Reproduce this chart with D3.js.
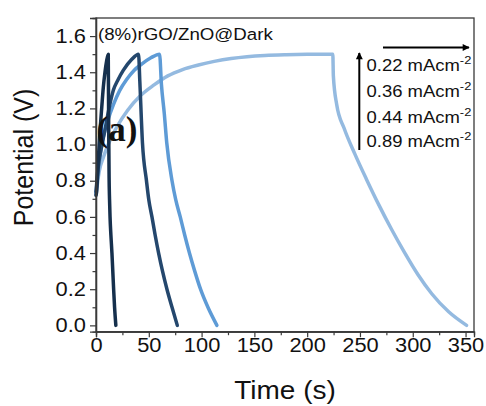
<!DOCTYPE html>
<html><head><meta charset="utf-8">
<script src="https://cdn.jsdelivr.net/npm/d3@7"></script>
<style>
html,body{margin:0;padding:0;background:#fff;}
svg{display:block;font-family:"Liberation Sans",Arial,sans-serif;}
</style></head>
<body><svg id="chart" width="486" height="406"></svg>
<script>
// ---- data ----
const seriesLabels = ["0.22", "0.36", "0.44", "0.89"];
const seriesColors = ["#94bae0", "#5e9bd6", "#24476d", "#16304d"];

// 0.22 mA cm-2
const t022 = [0, 3, 7, 13, 20, 30, 42, 55, 68, 82, 97, 112, 128, 143, 160, 180, 200, 224.3, 224.8, 228, 235, 245, 256, 268, 280, 292, 305, 318, 334, 351];
const v022 = [0.72, 0.85, 0.93, 1.02, 1.10, 1.19, 1.27, 1.33, 1.38, 1.415, 1.44, 1.46, 1.476, 1.486, 1.493, 1.497, 1.499, 1.50, 1.38, 1.22, 1.09, 0.95, 0.81, 0.665, 0.53, 0.405, 0.28, 0.175, 0.075, 0.0];

// 0.36 mA cm-2
const t036 = [0, 3, 6.9, 11, 16.4, 22.5, 29, 36, 43.2, 52, 60.2, 62, 64.7, 67, 72, 75.5, 79.8, 84, 88.5, 93.5, 99, 106, 114.5];
const v036 = [0.73, 0.90, 1.04, 1.13, 1.22, 1.30, 1.36, 1.41, 1.445, 1.48, 1.50, 1.33, 1.17, 1.01, 0.80, 0.695, 0.60, 0.50, 0.40, 0.30, 0.20, 0.10, 0.0];

// 0.44 mA cm-2
const t044 = [0, 2, 5, 8.5, 12, 16.4, 21, 25.8, 33.7, 40.3, 41.5, 44, 47.8, 50, 53, 56, 59.3, 63, 67.2, 72, 77];
const v044 = [0.74, 0.87, 0.98, 1.08, 1.19, 1.30, 1.36, 1.41, 1.47, 1.50, 1.35, 1.01, 0.80, 0.695, 0.60, 0.50, 0.40, 0.30, 0.20, 0.10, 0.0];

// 0.89 mA cm-2
const t089 = [0, 0.6, 2, 3.8, 5.5, 6.9, 8.5, 10, 11.6, 12.0, 12.4, 12.8, 13.3, 14.1, 15.1, 15.9, 16.7, 17.6, 18.8];
const v089 = [0.72, 0.74, 0.90, 1.075, 1.21, 1.315, 1.40, 1.46, 1.50, 1.10, 0.82, 0.70, 0.60, 0.50, 0.40, 0.30, 0.20, 0.10, 0.0];

const xTicks = [0, 50, 100, 150, 200, 250, 300, 350];
const yTicks = [0.0, 0.2, 0.4, 0.6, 0.8, 1.0, 1.2, 1.4, 1.6];
const xMinor = [25, 75, 125, 175, 225, 275, 325];
const yMinor = [0.1, 0.3, 0.5, 0.7, 0.9, 1.1, 1.3, 1.5];

const titleText = "(8%)rGO/ZnO@Dark";
const panelText = "(a)";
const xTitle = "Time (s)";
const yTitle = "Potential (V)";

// ---- layout ----
const SX = 1.12; // horizontal stretch of the reference
const L = 96, R = 474, T = 18, B = 331.7;
const svg = d3.select("#chart");
const x = d3.scaleLinear().domain([0, 358]).range([L, R]);
const y = d3.scaleLinear().domain([-0.035, 1.70]).range([B, T]);

// series
const data = [
  {t: t022, v: v022},
  {t: t036, v: v036},
  {t: t044, v: v044},
  {t: t089, v: v089}
];
const line = d3.line().x(d => x(d[0])).y(d => y(d[1])).curve(d3.curveMonotoneX);
data.forEach((s, i) => {
  const pts = s.t.map((t, k) => [t, s.v[k]]);
  svg.append("path").datum(pts)
    .attr("d", line)
    .attr("fill", "none")
    .attr("stroke", seriesColors[i])
    .attr("stroke-width", 3.5)
    .attr("stroke-linejoin", "round")
    .attr("stroke-linecap", "round");
});

// frame
svg.append("rect").attr("x", L).attr("y", T).attr("width", R - L).attr("height", B - T)
  .attr("fill", "none").attr("stroke", "#3a3a3a").attr("stroke-width", 1.3);

// axes
const fmtY = d3.format(".1f");
const gx = svg.append("g").attr("transform", `translate(0,${B})`)
  .call(d3.axisBottom(x).tickValues(xTicks).tickSize(5.5).tickPadding(0.5).tickFormat(d3.format("d")));
const gxm = svg.append("g").attr("transform", `translate(0,${B})`)
  .call(d3.axisBottom(x).tickValues(xMinor).tickSize(3.5).tickFormat(""));
const gy = svg.append("g").attr("transform", `translate(${L},0)`)
  .call(d3.axisLeft(y).tickValues(yTicks).tickSize(6).tickPadding(3).tickFormat(fmtY));
const gym = svg.append("g").attr("transform", `translate(${L},0)`)
  .call(d3.axisLeft(y).tickValues(yMinor).tickSize(3.5).tickFormat(""));
[gx, gxm, gy, gym].forEach(g => {
  g.select(".domain").attr("stroke", "#3a3a3a").attr("stroke-width", 1.3);
  g.selectAll(".tick line").attr("stroke", "#3a3a3a").attr("stroke-width", 1.2);
  g.selectAll("text").attr("font-size", 19.5).attr("fill", "#111")
    .attr("font-family", "Liberation Sans, Arial, sans-serif")
    .attr("transform", `scale(${SX},1)`);
});

// axis titles
svg.append("text").text(xTitle)
  .attr("transform", `translate(${(L + R) / 2},399) scale(${SX},1)`)
  .attr("text-anchor", "middle").attr("font-size", 25).attr("fill", "#111");
svg.append("text").text(yTitle)
  .attr("transform", `translate(33,157.5) scale(${SX},1) rotate(-90)`)
  .attr("text-anchor", "middle").attr("font-size", 25).attr("fill", "#111");

// title and panel label
svg.append("text").text(titleText)
  .attr("transform", `translate(98,39.5) scale(${SX},1)`)
  .attr("font-size", 16.7).attr("fill", "#111");
svg.append("text").text(panelText)
  .attr("transform", `translate(96.5,141)`)
  .attr("font-family", "Liberation Serif, 'Times New Roman', serif")
  .attr("font-weight", "bold").attr("font-size", 35).attr("fill", "#111");

// legend
const defs = svg.append("defs");
defs.append("marker").attr("id", "ah").attr("viewBox", "0 0 10 10")
  .attr("refX", 9).attr("refY", 5).attr("markerWidth", 10).attr("markerHeight", 7)
  .attr("markerUnits", "userSpaceOnUse").attr("orient", "auto")
  .append("path").attr("d", "M0,0 L10,5 L0,10 Z").attr("fill", "#000");
svg.append("line").attr("x1", 383).attr("y1", 47.5).attr("x2", 469).attr("y2", 47.5)
  .attr("stroke", "#000").attr("stroke-width", 2).attr("marker-end", "url(#ah)");
svg.append("line").attr("x1", 359.3).attr("y1", 150).attr("x2", 359.3).attr("y2", 53)
  .attr("stroke", "#000").attr("stroke-width", 2).attr("marker-end", "url(#ah)");

const legBase = [71, 97, 122.5, 147];
seriesLabels.forEach((lab, i) => {
  const t = svg.append("text")
    .attr("transform", `translate(366.5,${legBase[i]}) scale(${SX},1)`)
    .attr("font-size", 16.5).attr("fill", "#111");
  t.append("tspan").text(lab + " mAcm");
  t.append("tspan").text("-2").attr("font-size", 11.5).attr("dy", -7);
});
</script>
</body></html>
